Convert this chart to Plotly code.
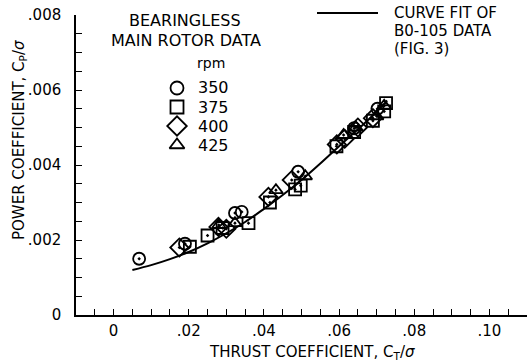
import plotly.graph_objects as go

# ---------------- data ----------------
rpm_labels = ["350", "375", "400", "425"]

ct_350 = [0.0068, 0.0190, 0.0323, 0.0341, 0.0491, 0.0640, 0.0702]
cp_350 = [0.00150, 0.00190, 0.00272, 0.00275, 0.00382, 0.00498, 0.00550]

ct_375 = [0.0203, 0.0250, 0.0290, 0.0359, 0.0416, 0.0483, 0.0498, 0.0593, 0.0640, 0.0690, 0.0720, 0.0725]
cp_375 = [0.00182, 0.00212, 0.00232, 0.00245, 0.00300, 0.00335, 0.00345, 0.00450, 0.00488, 0.00518, 0.00543, 0.00565]

ct_400 = [0.0175, 0.0279, 0.0300, 0.0412, 0.0474, 0.0594, 0.0615, 0.0650, 0.0690]
cp_400 = [0.00180, 0.00235, 0.00230, 0.00315, 0.00360, 0.00455, 0.00470, 0.00500, 0.00525]

ct_425 = [0.0280, 0.0323, 0.0432, 0.0510, 0.0612, 0.0645, 0.0700, 0.0720]
cp_425 = [0.00240, 0.00245, 0.00333, 0.00370, 0.00480, 0.00500, 0.00530, 0.00558]

curve_ct = [0.005, 0.010, 0.015, 0.020, 0.025, 0.030, 0.035, 0.040, 0.045,
            0.050, 0.055, 0.060, 0.065, 0.070, 0.0728]
curve_cp = [0.00120, 0.00133, 0.00149, 0.00168, 0.00191, 0.00218, 0.00248, 0.00283,
            0.00320, 0.00360, 0.00404, 0.00450, 0.00495, 0.00542, 0.00572]

x_tickvals = [0, 0.02, 0.04, 0.06, 0.08, 0.10]
x_ticktext = ["0", ".02", ".04", ".06", ".08", ".10"]
y_tickvals = [0, 0.002, 0.004, 0.006, 0.008]
y_ticktext = ["0", ".002", ".004", ".006", ".008"]

# ---------------- layout geometry ----------------
W, H = 527, 363
L, R, T, B = 76, 0, 15, 48
XR = [-0.01, 0.11]
YR = [0.0, 0.008]
FONT = "DejaVu Sans, Liberation Sans, Arial, sans-serif"
FS = 16


def px2x(px):
    return XR[0] + (px - L) / (W - L - R) * (XR[1] - XR[0])


def py2y(py):
    return YR[0] + (H - B - py) / (H - B - T) * (YR[1] - YR[0])


def pxp(px):
    return (px - L) / (W - L - R)


def pyp(py):
    return (H - B - py) / (H - B - T)


symbols = ["circle-open-dot", "square-open-dot", "diamond-open-dot", "triangle-up-open-dot"]
leg_symbols = ["circle-open", "square-open", "diamond-open", "triangle-up-open"]
series = [(ct_350, cp_350), (ct_375, cp_375), (ct_400, cp_400), (ct_425, cp_425)]
msize = [12, 12, 14, 12]

fig = go.Figure()

fig.add_trace(go.Scatter(x=curve_ct, y=curve_cp, mode="lines",
                         line=dict(color="black", width=2, shape="spline"),
                         showlegend=False, hoverinfo="skip"))

for (cx, cy), sym, ms in zip(series, symbols, msize):
    fig.add_trace(go.Scatter(x=cx, y=cy, mode="markers",
                             marker=dict(symbol=sym, size=ms, color="black",
                                         line=dict(width=1.8)),
                             showlegend=False))

# legend keys (manual)
leg_py = [88, 107, 126, 145]
for sym, ms, py in zip(leg_symbols, msize, leg_py):
    fig.add_trace(go.Scatter(x=[px2x(177)], y=[py2y(py)], mode="markers",
                             marker=dict(symbol=sym, size=ms + 1, color="black",
                                         line=dict(width=1.8)),
                             showlegend=False, cliponaxis=False, hoverinfo="skip"))

annotations = []


def txt(text, px, py, anchor="center", size=FS, angle=0):
    annotations.append(dict(text=text, x=pxp(px), y=pyp(py), xref="paper", yref="paper",
                            xanchor=anchor, yanchor="middle", showarrow=False,
                            textangle=angle,
                            font=dict(family=FONT, size=size, color="black")))


txt("BEARINGLESS", 185, 20)
txt("MAIN ROTOR DATA", 186, 40)
txt("rpm", 211, 63, size=14)
for py, lab in zip(leg_py, rpm_labels):
    txt(lab, 196, py, anchor="left")

txt("CURVE FIT OF", 392, 13, anchor="left", size=15)
txt("B0-105 DATA", 392, 31, anchor="left", size=15)
txt("(FIG. 3)", 392, 49, anchor="left", size=15)

txt("THRUST COEFFICIENT, C<sub>T</sub>/<i>σ</i>", 312, 352, size=15)
txt("POWER COEFFICIENT, C<sub>P</sub>/<i>σ</i>", 19, 140, angle=-90, size=15)

shapes = [dict(type="line", xref="paper", yref="paper", x0=pxp(317), x1=pxp(378),
               y0=pyp(13), y1=pyp(13), line=dict(color="black", width=1.8))]

fig.update_layout(
    width=W, height=H,
    margin=dict(l=L, r=R, t=T, b=B, pad=0),
    paper_bgcolor="white", plot_bgcolor="white",
    font=dict(family=FONT, size=15, color="black"),
    annotations=annotations, shapes=shapes,
    showlegend=False,
)

fig.update_xaxes(range=XR, showgrid=False, zeroline=False, showline=True, linecolor="black",
                 linewidth=1.5, ticks="inside", ticklen=6, tickwidth=1, tickcolor="black",
                 tickmode="array", tickvals=x_tickvals, ticktext=x_ticktext,
                 ticklabelstandoff=1,
                 minor=dict(dtick=0.005, tick0=0, ticks="inside", ticklen=6, tickwidth=1,
                            tickcolor="black", showgrid=False))

fig.update_yaxes(range=YR, showgrid=False, zeroline=False, showline=True, linecolor="black",
                 linewidth=1.5, ticks="inside", ticklen=6, tickwidth=1, tickcolor="black",
                 tickmode="array", tickvals=y_tickvals, ticktext=y_ticktext,
                 ticklabelstandoff=10,
                 minor=dict(dtick=0.0005, tick0=0, ticks="inside", ticklen=6, tickwidth=1,
                            tickcolor="black", showgrid=False))

fig.write_html("out.html")
